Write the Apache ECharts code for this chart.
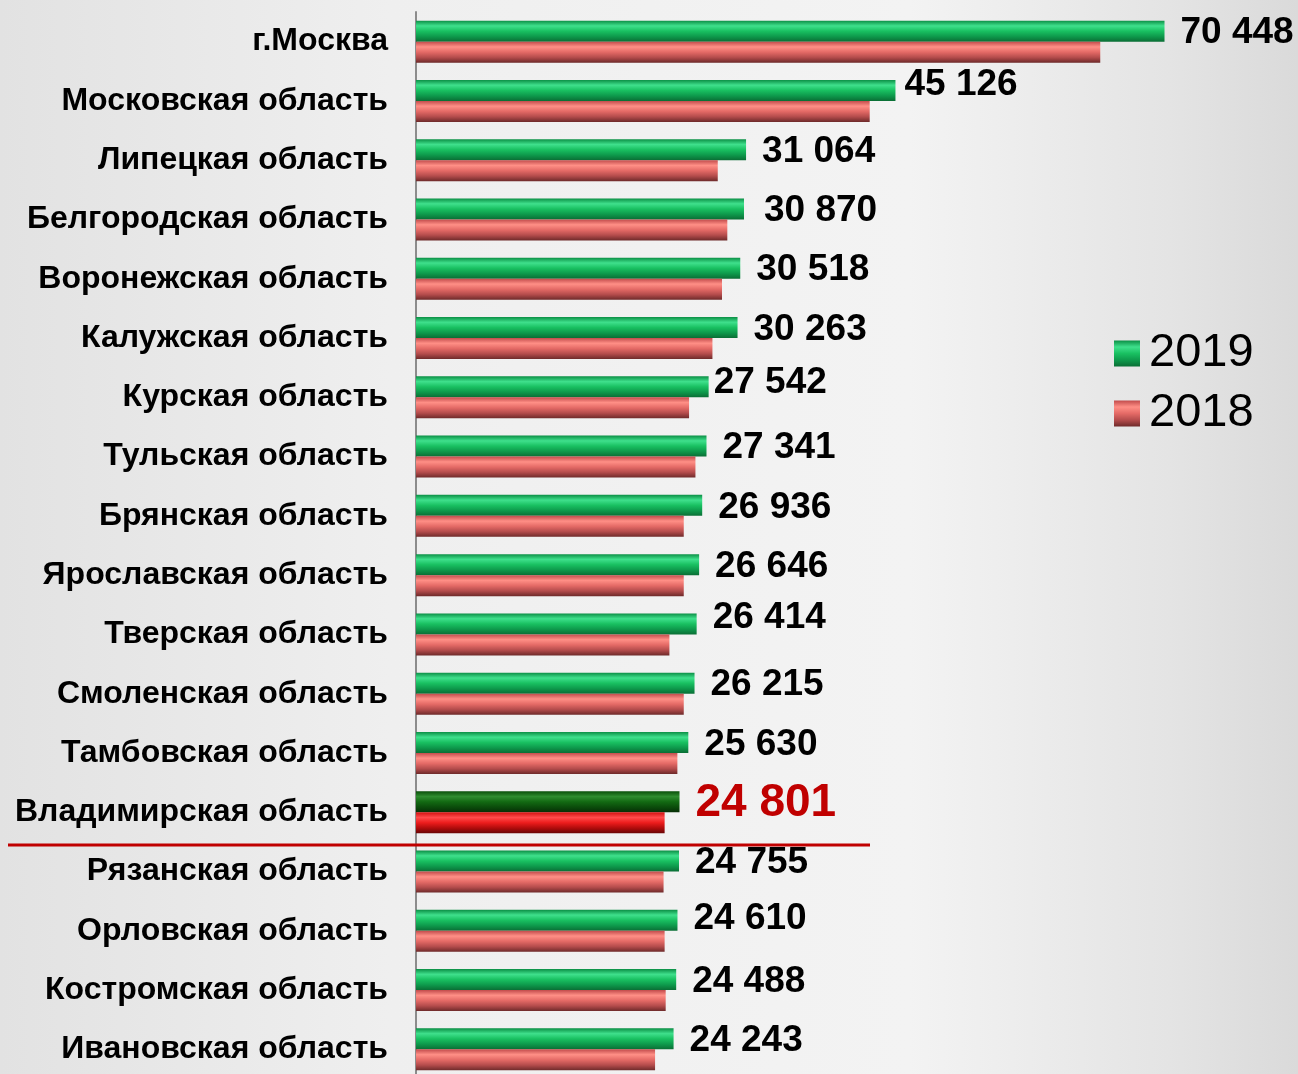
<!DOCTYPE html>
<html>
<head>
<meta charset="utf-8">
<script src="https://cdn.jsdelivr.net/npm/echarts@6/dist/echarts.min.js"></script>
<style>
  html, body { margin: 0; padding: 0; }
  #chart { width: 1298px; height: 1074px; }
</style>
</head>
<body>
<div id="chart"></div>
<script>
// регионы сверху вниз
var regions = [
  'г.Москва', 'Московская область', 'Липецкая область', 'Белгородская область',
  'Воронежская область', 'Калужская область', 'Курская область', 'Тульская область',
  'Брянская область', 'Ярославская область', 'Тверская область', 'Смоленская область',
  'Тамбовская область', 'Владимирская область', 'Рязанская область', 'Орловская область',
  'Костромская область', 'Ивановская область'
];
var values2019 = [70448, 45126, 31064, 30870, 30518, 30263, 27542, 27341, 26936,
  26646, 26414, 26215, 25630, 24801, 24755, 24610, 24488, 24243];
// 2018 - оценка по длине столбцов
var values2018 = [64400, 42700, 28400, 29300, 28800, 27900, 25700, 26300, 25200,
  25200, 23850, 25200, 24600, 23400, 23300, 23400, 23500, 22500];

var highlight = 'Владимирская область';
var font = 'Arial, "Liberation Sans", sans-serif';

// ручные сдвиги подписей (как на слайде)
var labelNudge = { 1: [-7, -6], 3: [4, 2], 6: [-11, -4], 10: [0, -6], 15: [0, -2] };

function grad(stops) {
  return new echarts.graphic.LinearGradient(0, 0, 0, 1, stops.map(function (c, i) {
    return { offset: i / (stops.length - 1), color: c };
  }));
}
var green = grad(['#0b8f45', '#3fe08c', '#19c061', '#0e9a4c', '#0a6e35']);
var red = grad(['#c24c4c', '#ff8f86', '#e46a66', '#b44c4c', '#6e2a2a']);
var greenDark = grad(['#0a4f0a', '#2f8c2f', '#136a13', '#0b4d0b', '#062e06']);
var redBright = grad(['#d01010', '#ff4a4a', '#ec1c1c', '#b00c0c', '#6a0606']);

function fmt(v) {
  return String(v).replace(/\B(?=(\d{3})+(?!\d))/g, ' ');
}

var myChart = echarts.init(document.getElementById('chart'));

var data2019 = values2019.map(function (v, i) {
  var item = { value: v };
  if (regions[i] === highlight) {
    item.itemStyle = { color: greenDark };
    item.label = { color: '#C00000', fontSize: 46 };
  }
  if (labelNudge[i]) {
    item.label = Object.assign(item.label || {}, { offset: labelNudge[i] });
  }
  return item;
});
var data2018 = values2018.map(function (v, i) {
  return regions[i] === highlight ? { value: v, itemStyle: { color: redBright } } : v;
});

var option = {
  backgroundColor: new echarts.graphic.LinearGradient(0, 0, 1, 0, [
    { offset: 0, color: '#e2e2e2' },
    { offset: 0.3, color: '#efefef' },
    { offset: 0.7, color: '#f3f3f3' },
    { offset: 0.9, color: '#e4e4e4' },
    { offset: 1, color: '#dadada' }
  ]),
  animation: false,
  grid: { left: 416, top: 12, width: 850, height: 1067, outerBoundsMode: 'none' },
  legend: {
    left: 1109,
    top: 325,
    orient: 'vertical',
    itemWidth: 26,
    itemHeight: 26,
    itemGap: 13,
    icon: 'rect',
    data: ['2019', '2018'],
    textStyle: { fontFamily: font, fontSize: 47, color: '#000', padding: [0, 0, 0, 4] }
  },
  xAxis: {
    type: 'value',
    min: 0,
    max: 80000,
    show: false
  },
  yAxis: {
    type: 'category',
    data: regions,
    inverse: true,
    axisLine: { lineStyle: { color: '#8c8c8c', width: 2 } },
    axisTick: { length: 9, lineStyle: { color: '#8c8c8c', width: 2 } },
    axisLabel: {
      margin: 28,
      fontFamily: font,
      fontSize: 32,
      fontWeight: 'bold',
      color: '#000',
      padding: [5, 0, 0, 0]
    },
    splitLine: { show: false }
  },
  series: [
    {
      name: '2019',
      type: 'bar',
      barWidth: 21,
      barGap: '0%',
      itemStyle: { color: green },
      label: {
        show: true,
        position: 'right',
        distance: 16,
        offset: [0, 2],
        fontFamily: font,
        fontSize: 37,
        fontWeight: 'bold',
        color: '#000',
        formatter: function (p) { return fmt(p.value); }
      },
      data: data2019
    },
    {
      name: '2018',
      type: 'bar',
      barWidth: 21,
      itemStyle: { color: red },
      data: data2018
    }
  ]
};
myChart.setOption(option);

// красная линия под Владимирской областью
var idx = regions.indexOf(highlight);
var yA = myChart.convertToPixel({ yAxisIndex: 0 }, regions[idx]);
var yB = myChart.convertToPixel({ yAxisIndex: 0 }, regions[idx + 1]);
var yLine = (yA + yB) / 2 + 3;
myChart.setOption({
  graphic: [{
    type: 'line',
    shape: { x1: 8, y1: yLine, x2: 870, y2: yLine },
    style: { stroke: '#C00000', lineWidth: 3 },
    z: 100
  }]
});
</script>
</body>
</html>
